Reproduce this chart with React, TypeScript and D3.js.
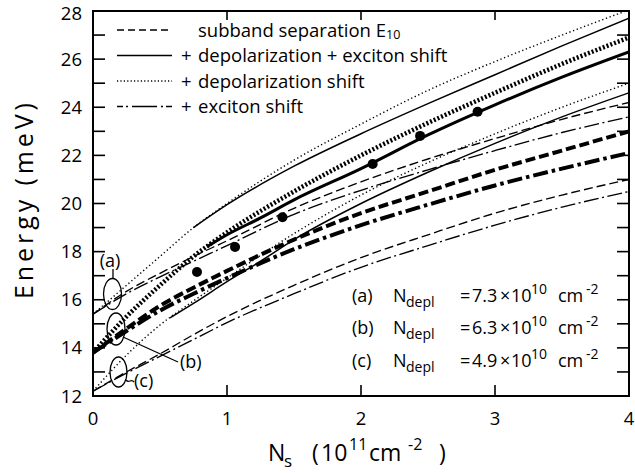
import React from 'react';
import * as d3 from 'd3';

const W = 635;
const H = 473;
const FONT = "'Open Sans', 'Liberation Sans', sans-serif";

// axes
const X_DOMAIN = [0, 4];
const Y_DOMAIN = [12, 28];
const X_TICK_LABELS = [0, 1, 2, 3, 4];
const X_INNER_TICKS = [1, 2, 3];
const Y_TICK_LABELS = [12, 14, 16, 18, 20, 22, 24, 26, 28];
const Y_INNER_TICKS = [13, 14, 15, 16, 17, 18, 19, 20, 21, 22, 23, 24, 25, 26, 27];

// common Ns grid (10^11 cm^-2)
const NS = [0, 0.25, 0.5, 0.75, 1, 1.5, 2, 2.5, 3, 3.5, 4];

// (a) Ndepl = 7.3e10
const A_DASHED = [15.4, 16.35, 17.1, 17.8, 18.45, 19.8, 20.9, 21.85, 22.7, 23.5, 24.2];
const A_DOTTED = [15.4, 16.6, 17.8, 19.0, 20.0, 21.8, 23.3, 24.7, 25.9, 27.0, 28.05];
const A_DASHDOT = [15.4, 16.25, 16.95, 17.6, 18.25, 19.55, 20.55, 21.4, 22.2, 22.95, 23.6];
const A_SOLID_NS = [0.75, 1, 1.5, 2, 2.5, 3, 3.5, 4];
const A_SOLID = [19.0, 19.95, 21.55, 22.9, 24.15, 25.35, 26.55, 27.7];

// (b) Ndepl = 6.3e10 (bold)
const B_DASHED = [13.8, 14.8, 15.75, 16.5, 17.2, 18.5, 19.6, 20.5, 21.4, 22.2, 23.0];
const B_DOTTED = [13.8, 15.3, 16.6, 17.8, 18.8, 20.5, 22.0, 23.35, 24.6, 25.8, 26.9];
const B_DASHDOT = [13.8, 14.7, 15.55, 16.25, 16.9, 18.1, 19.1, 19.95, 20.75, 21.45, 22.1];
const B_SOLID_NS = [0.85, 1, 1.25, 1.5, 2, 2.5, 3, 3.5, 4];
const B_SOLID = [18.2, 18.7, 19.4, 20.15, 21.45, 22.85, 24.1, 25.25, 26.3];

// (c) Ndepl = 4.9e10
const C_DASHED = [12.2, 13.0, 13.75, 14.55, 15.3, 16.6, 17.75, 18.7, 19.6, 20.35, 21.0];
const C_DOTTED = [12.2, 13.7, 14.95, 15.95, 16.9, 18.75, 20.35, 21.7, 22.9, 24.0, 25.0];
const C_DASHDOT = [12.2, 12.95, 13.65, 14.35, 15.05, 16.25, 17.35, 18.25, 19.1, 19.85, 20.5];
const C_SOLID_NS = [0.575, 0.75, 1, 1.25, 1.5, 2, 2.5, 3, 3.5, 4];
const C_SOLID = [15.25, 15.85, 16.75, 17.6, 18.5, 20.0, 21.3, 22.5, 23.6, 24.6];

// measured points
const PTS_NS = [0.776, 1.06, 1.414, 2.087, 2.441, 2.87];
const PTS_E = [17.15, 18.19, 19.43, 21.64, 22.81, 23.81];

// legend
const LEGEND_LABELS = ['subband separation E', '+ depolarization + exciton shift', '+ depolarization shift', '+ exciton shift'];
const NDEPL_LABELS = ['(a)', '(b)', '(c)'];
const NDEPL_VALUES = ['7.3', '6.3', '4.9'];

const x = d3.scaleLinear().domain(X_DOMAIN).range([93, 629]);
const y = d3.scaleLinear().domain(Y_DOMAIN).range([396, 11]);

const line = d3
  .line<[number, number]>()
  .x((d) => x(d[0]))
  .y((d) => y(d[1]))
  .curve(d3.curveMonotoneX);

const zip = (ns: number[], es: number[]) => ns.map((n, i) => [n, es[i]] as [number, number]);

type Style = { w: number; dash?: string };
const THIN_DASHED: Style = { w: 1.35, dash: '9 4' };
const THIN_DOTTED: Style = { w: 1.4, dash: '1.3 2.6' };
const THIN_DASHDOT: Style = { w: 1.35, dash: '15 3.5 2 3.5' };
const THIN_SOLID: Style = { w: 1.5 };
const THICK_DASHED: Style = { w: 4, dash: '10 4' };
const THICK_DOTTED: Style = { w: 4.5, dash: '2 2' };
const THICK_DASHDOT: Style = { w: 4, dash: '15 4 3.5 4' };
const THICK_SOLID: Style = { w: 3 };

const SERIES: { pts: [number, number][]; s: Style }[] = [
  { pts: zip(NS, A_DASHED), s: THIN_DASHED },
  { pts: zip(NS, A_DOTTED), s: THIN_DOTTED },
  { pts: zip(NS, A_DASHDOT), s: THIN_DASHDOT },
  { pts: zip(A_SOLID_NS, A_SOLID), s: THIN_SOLID },
  { pts: zip(NS, B_DASHED), s: THICK_DASHED },
  { pts: zip(NS, B_DOTTED), s: THICK_DOTTED },
  { pts: zip(NS, B_DASHDOT), s: THICK_DASHDOT },
  { pts: zip(B_SOLID_NS, B_SOLID), s: THICK_SOLID },
  { pts: zip(NS, C_DASHED), s: THIN_DASHED },
  { pts: zip(NS, C_DOTTED), s: THIN_DOTTED },
  { pts: zip(NS, C_DASHDOT), s: THIN_DASHDOT },
  { pts: zip(C_SOLID_NS, C_SOLID), s: THIN_SOLID },
];

const LEGEND_STYLES: Style[] = [
  { w: 1.4, dash: '7 4' },
  { w: 1.6 },
  { w: 1.3, dash: '1.2 2.2' },
  { w: 1.4, dash: '6 3 2 4 25 4 2 3 6' },
];

export default function App() {
  const [x0, x1] = x.range();
  const [yb, yt] = y.range();
  const legendRows = [30, 55.5, 81, 106.5];
  const annRows = [302, 334, 367];
  return (
    <svg
      width={W}
      height={H}
      style={{ position: 'absolute', left: 0, top: 0, background: '#fff' }}
      fontFamily={FONT}
    >
      <rect width={W} height={H} fill="#fff" />
      <defs>
        <clipPath id="plot">
          <rect x={x0} y={yt} width={x1 - x0} height={yb - yt} />
        </clipPath>
      </defs>

      {/* curves */}
      <g clipPath="url(#plot)" fill="none" stroke="#000">
        {SERIES.map((d, i) => (
          <path key={i} d={line(d.pts) || ''} strokeWidth={d.s.w} strokeDasharray={d.s.dash} />
        ))}
      </g>

      {/* points */}
      {PTS_NS.map((n, i) => (
        <circle key={i} cx={x(n)} cy={y(PTS_E[i])} r={5} fill="#000" />
      ))}

      {/* frame */}
      <rect x={x0} y={yt} width={x1 - x0} height={yb - yt} fill="none" stroke="#000" strokeWidth={2} />

      {/* ticks */}
      <g stroke="#000" strokeWidth={1.6}>
        {Y_INNER_TICKS.map((t) => (
          <g key={t}>
            <line x1={x0} x2={x0 + 12} y1={y(t)} y2={y(t)} />
            <line x1={x1} x2={x1 - 12} y1={y(t)} y2={y(t)} />
          </g>
        ))}
        {X_INNER_TICKS.map((t) => (
          <g key={t}>
            <line x1={x(t)} x2={x(t)} y1={yb} y2={yb - 11} />
            <line x1={x(t)} x2={x(t)} y1={yt} y2={yt + 9} />
          </g>
        ))}
      </g>

      {/* tick labels */}
      <g fontSize={18.5} fill="#000">
        {Y_TICK_LABELS.map((t) => (
          <text key={t} x={82} y={Math.max(y(t) + 6.5, 20)} textAnchor="end">
            {t}
          </text>
        ))}
        {X_TICK_LABELS.map((t) => (
          <text key={t} x={x(t)} y={425} textAnchor="middle">
            {t}
          </text>
        ))}
      </g>

      {/* axis titles */}
      <text
        transform="translate(33,201) rotate(-90)"
        textAnchor="middle"
        fontSize={25}
        textLength={196}
        lengthAdjust="spacing"
      >
        Energy (meV)
      </text>
      <text fontSize={23} fill="#000">
        <tspan x={268} y={461}>N</tspan>
        <tspan x={284} y={467} fontSize={17}>s</tspan>
        <tspan x={312} y={461}>(</tspan>
        <tspan x={321} y={461}>10</tspan>
        <tspan x={349} y={450} fontSize={16}>11</tspan>
        <tspan x={369} y={461}>cm</tspan>
        <tspan x={408} y={450} fontSize={16}>-2</tspan>
        <tspan x={439} y={461}>)</tspan>
      </text>

      {/* legend */}
      {legendRows.map((ry, i) => (
        <g key={i}>
          <line x1={117} x2={172} y1={ry} y2={ry} stroke="#000" strokeWidth={LEGEND_STYLES[i].w} strokeDasharray={LEGEND_STYLES[i].dash} />
          {i === 0 ? (
            <text fontSize={18.5} y={ry + 6.5}>
              <tspan x={198}>{LEGEND_LABELS[0]}</tspan>
              <tspan fontSize={12.5} y={ry + 9}>10</tspan>
            </text>
          ) : (
            <text fontSize={18.5} y={ry + 6.5}>
              <tspan x={181}>+</tspan>
              <tspan x={198}>{LEGEND_LABELS[i].slice(2)}</tspan>
            </text>
          )}
        </g>
      ))}

      {/* Ndepl annotations */}
      {annRows.map((by, i) => (
        <text key={i} fontSize={18}>
          <tspan x={352} y={by}>{NDEPL_LABELS[i]}</tspan>
          <tspan x={393} y={by}>N</tspan>
          <tspan x={406} y={by + 5} fontSize={14}>depl</tspan>
          <tspan x={460} y={by}>=</tspan>
          <tspan x={472} y={by}>{NDEPL_VALUES[i]}</tspan>
          <tspan x={500} y={by}>×</tspan>
          <tspan x={511} y={by}>10</tspan>
          <tspan x={531} y={by - 8} fontSize={14}>10</tspan>
          <tspan x={558} y={by}>cm</tspan>
          <tspan x={586} y={by - 8} fontSize={14}>-2</tspan>
        </text>
      ))}

      {/* ellipses and labels */}
      <g fill="none" stroke="#000" strokeWidth={1.3}>
        <ellipse cx={112.5} cy={294} rx={9} ry={15.5} />
        <ellipse cx={116} cy={329} rx={9} ry={16} />
        <ellipse cx={118.5} cy={372} rx={8.5} ry={15} />
        <line x1={113} x2={113} y1={269} y2={278.5} />
        <line x1={123} y1={337} x2={178} y2={362} />
        <path d="M126,380 C129,384 131,378 134,382" />
      </g>
      <g fontSize={18}>
        <text x={110} y={267} textAnchor="middle">(a)</text>
        <text x={180} y={368}>(b)</text>
        <text x={134} y={387}>(c)</text>
      </g>
    </svg>
  );
}
